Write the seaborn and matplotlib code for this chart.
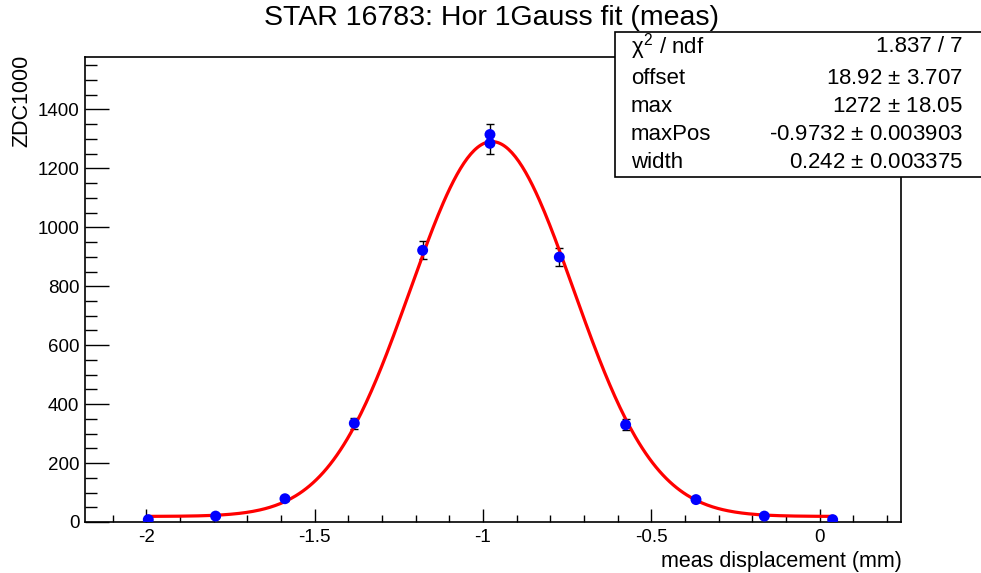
import numpy as np
import pandas as pd
import matplotlib
matplotlib.use("Agg")
import matplotlib.pyplot as plt
from matplotlib.ticker import MultipleLocator
from matplotlib.patches import Rectangle
import seaborn as sns

# ---- data ----
x_pos = [-1.994, -1.794, -1.588, -1.382, -1.179, -0.979, -0.979, -0.773, -0.576, -0.367, -0.164, 0.039]
zdc = [8, 20, 79, 335, 922, 1315, 1285, 899, 330, 76, 20, 8]
zdc_err = [3, 4.5, 9, 18, 30, 36, 36, 30, 18, 9, 4.5, 3]

# fit parameters (displayed in the stats box)
fit_offset = 18.92
fit_max = 1272.0
fit_maxpos = -0.9732
fit_width = 0.242
stat_labels = ["$\\chi^{2}$ / ndf", "offset", "max", "maxPos", "width"]
stat_values = ["1.837 / 7", "18.92 $\\pm$ 3.707", "1272 $\\pm$ 18.05",
               "-0.9732 $\\pm$ 0.003903", "0.242 $\\pm$ 0.003375"]

title = "STAR 16783: Hor 1Gauss fit (meas)"
xlabel = "meas displacement (mm)"
ylabel = "ZDC1000"

sns.set_style("ticks")
plt.rcParams["font.family"] = ["Liberation Sans", "DejaVu Sans"]
plt.rcParams["mathtext.fontset"] = "custom"
plt.rcParams["mathtext.rm"] = "Liberation Sans"
plt.rcParams["mathtext.it"] = "Liberation Sans"
plt.rcParams["text.color"] = "black"
plt.rcParams["xtick.color"] = "black"
plt.rcParams["ytick.color"] = "black"
plt.rcParams["xtick.labelcolor"] = "black"
plt.rcParams["ytick.labelcolor"] = "black"

W, H = 981, 573
fig = plt.figure(figsize=(W / 100, H / 100), dpi=100)
ax = fig.add_axes([85 / W, 1 - 522 / H, (901 - 85) / W, (522 - 57) / H])

# fit curve
xf = np.linspace(min(x_pos), max(x_pos), 400)
yf = fit_offset + fit_max * np.exp(-0.5 * ((xf - fit_maxpos) / fit_width) ** 2)
df_fit = pd.DataFrame({"x": xf, "y": yf})
df = pd.DataFrame({"x": x_pos, "y": zdc, "err": zdc_err})

ax.errorbar(df["x"], df["y"], yerr=df["err"], fmt="none", ecolor="black",
            elinewidth=1.0, capsize=3, capthick=1.0, zorder=2)
sns.lineplot(data=df_fit, x="x", y="y", color="#ff0000", linewidth=2.3, ax=ax, zorder=3)
sns.scatterplot(data=df, x="x", y="y", color="#0000ff", s=62, edgecolor="none", ax=ax, zorder=4)

ax.set_xlim(-2.182, 0.242)
ax.set_ylim(0, 1578)
ax.xaxis.set_major_locator(MultipleLocator(0.5))
ax.xaxis.set_minor_locator(MultipleLocator(0.1))
ax.yaxis.set_major_locator(MultipleLocator(200))
ax.yaxis.set_minor_locator(MultipleLocator(50))
ax.xaxis.set_major_formatter(matplotlib.ticker.FuncFormatter(lambda v, p: f"{v:g}"))

for s in ax.spines.values():
    s.set_linewidth(1.2)
    s.set_color("black")

ax.tick_params(axis="x", which="major", direction="in", length=9.5, width=1.0,
               labelsize=13.5, pad=5, top=False, colors="black")
ax.tick_params(axis="x", which="minor", direction="in", length=4.7, width=1.0, top=False, colors="black")
ax.tick_params(axis="y", which="major", direction="in", length=17, width=1.0,
               labelsize=13.5, pad=4, right=False, colors="black")
ax.tick_params(axis="y", which="minor", direction="in", length=8.6, width=1.0, right=False, colors="black")

ax.set_xlabel("")
ax.set_ylabel("")
fig.text(902 / W, 1 - 561 / H, xlabel, ha="right", va="center", fontsize=15.5, color="black")
fig.text(22 / W, 1 - 55 / H, ylabel, ha="center", va="top", rotation=90, fontsize=15.5, color="black")
fig.text(492 / W, 1 - 18 / H, title, ha="center", va="center", fontsize=20.5, color="black")

# stats box
box = Rectangle((615 / W, 1 - 177 / H), (W + 5 - 615) / W, (177 - 32) / H,
                transform=fig.transFigure, facecolor="white", edgecolor="black",
                linewidth=1.2, zorder=10, clip_on=False)
fig.add_artist(box)
rows_y = [47, 78, 106, 134, 162]
for lab, val, yy in zip(stat_labels, stat_values, rows_y):
    fig.text(631 / W, 1 - yy / H, lab, ha="left", va="center", fontsize=16, zorder=11, color="black")
    fig.text(963 / W, 1 - yy / H, val, ha="right", va="center", fontsize=16, zorder=11, color="black")

fig.savefig("out.png", dpi=100)
